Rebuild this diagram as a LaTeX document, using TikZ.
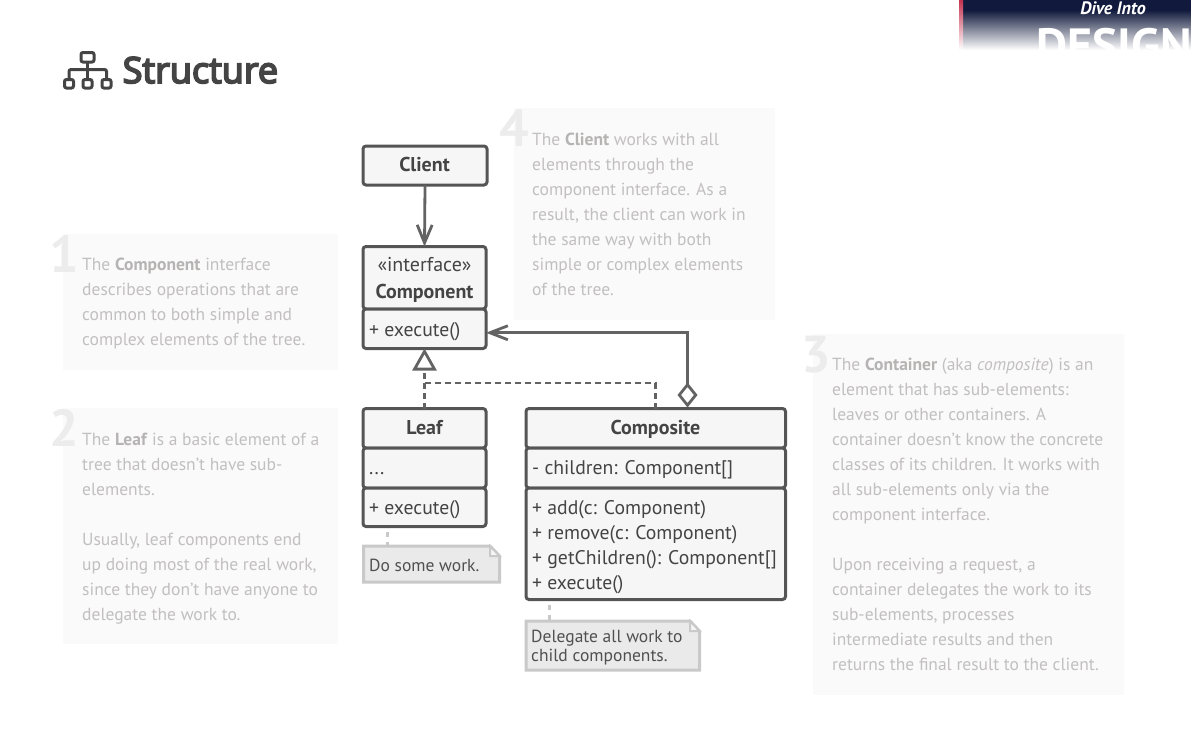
\documentclass[tikz,border=0pt]{standalone}
\usepackage{fontspec}
\setmainfont{PT Sans}
\newfontfamily\titlefont[FakeBold=5]{Open Sans}
\usetikzlibrary{arrows.meta}
\definecolor{inkdark}{HTML}{444444}
\definecolor{inknote}{HTML}{505050}
\definecolor{linedark}{HTML}{555555}
\definecolor{linemid}{HTML}{636363}
\definecolor{boxfill}{HTML}{F6F6F6}
\definecolor{panelfill}{HTML}{FAFAFA}
\definecolor{paneltext}{HTML}{C2BFBF}
\definecolor{panelbold}{HTML}{B6B3B3}
\definecolor{numgray}{HTML}{ECECEC}
\definecolor{notefill}{HTML}{EAEAEA}
\definecolor{noteline}{HTML}{C9C9C9}
\definecolor{bannernavy}{HTML}{111A3C}
\definecolor{bannerred}{HTML}{C4324F}
\tikzset{
  classbox/.style={draw=linedark,fill=boxfill,line width=3pt,rounded corners=3pt,anchor=north west,outer sep=0pt,inner sep=0pt,minimum width=#1},
  classbox/.default=123pt,
  headtext/.style={anchor=base,text=inkdark,font=\fontsize{20}{23}\selectfont\bfseries},
  itemtext/.style={anchor=base west,text=inkdark,inner sep=0pt,font=\fontsize{19.7}{25}\selectfont},
  notetext/.style={anchor=base west,text=inknote,inner sep=0pt,align=left,font=\fontsize{17.5}{19}\selectfont},
  notebox/.style={draw=noteline,fill=notefill,line width=3pt,line join=miter},
  notelink/.style={draw=noteline,line width=3pt,dash pattern=on 5pt off 5pt,dash phase=5pt},
  panel/.style={fill=panelfill},
  paneltxt/.style={anchor=base west,text=paneltext,inner sep=0pt,align=left,font=\fontsize{17.5}{25}\selectfont},
  bignum/.style={anchor=base west,text=numgray,inner sep=0pt,font=\fontsize{52}{52}\selectfont\bfseries},
  assoc/.style={draw=linemid,line width=2.8pt},
  realize/.style={draw=linemid,line width=2.8pt,dash pattern=on 6pt off 4pt},
  iconline/.style={draw=inkdark,line width=3pt,rounded corners=2pt}
}
\newcommand{\hl}[1]{\textcolor{panelbold}{\textbf{#1}}}
\begin{document}
\begin{tikzpicture}[x=1pt,y=-1pt]
\useasboundingbox (0,0) rectangle (1191,731);
\begin{scope}
\clip (959,0) rectangle (1191,50);
\shade[top color=bannernavy,bottom color=white] (959,10) rectangle (1191,50);
\fill[bannernavy] (959,0) rectangle (1191,10.5);
\shade[top color=bannerred,bottom color=white] (959,0) rectangle (963,50);
\node[anchor=base,text=white,inner sep=0pt,font=\fontsize{18}{18}\selectfont\bfseries\itshape] (bannertop) at (1113,14) {Dive Into};
\node[anchor=base west,text=white,inner sep=0pt,font=\fontsize{48}{48}\selectfont\bfseries] (bannerword) at (1036,62) {DESIGN};
\end{scope}
\draw[iconline] (81,52.5) rectangle (94,62);
\draw[iconline] (87.5,62) -- (87.5,79);
\draw[iconline] (69,79) -- (69,69.5) -- (106.5,69.5) -- (106.5,79);
\draw[iconline] (64.5,79.5) rectangle (73.5,88);
\draw[iconline] (83,79.5) rectangle (92,88);
\draw[iconline] (102,79.5) rectangle (111,88);
\node[anchor=base west,text=inkdark,inner sep=0pt,font=\titlefont\fontsize{36}{36}\selectfont] (title) at (122.5,83) {Structure};
\fill[panel] (63,234) rectangle (338,370);
\fill[panel] (63,408) rectangle (338,644);
\fill[panel] (514,108) rectangle (775,320);
\fill[panel] (813,334) rectangle (1124,695);
\node[bignum] (numone) at (49.5,272) {1};
\node[bignum] (numtwo) at (49.5,446) {2};
\node[bignum] (numfour) at (499,146) {4};
\node[bignum] (numthree) at (801,372) {3};
\node[paneltxt] (textone) at (82,345) {The \hl{Component} interface\\describes operations that are\\common to both simple and\\complex elements of the tree.};
\node[paneltxt] (texttwo) at (82,620) {The \hl{Leaf} is a basic element of a\\tree that doesn’t have sub-\\elements.\\[25pt]Usually, leaf components end\\up doing most of the real work,\\since they don’t have anyone to\\delegate the work to.};
\node[paneltxt] (textfour) at (532,295) {The \hl{Client} works with all\\elements through the\\component interface. As a\\result, the client can work in\\the same way with both\\simple or complex elements\\of the tree.};
\node[paneltxt] (textthree) at (832,670) {The \hl{Container} (aka \textit{composite}) is an\\element that has sub-elements:\\leaves or other containers. A\\container doesn’t know the concrete\\classes of its children. It works with\\all sub-elements only via the\\component interface.\\[25pt]Upon receiving a request, a\\container delegates the work to its\\sub-elements, processes\\intermediate results and then\\returns the final result to the client.};
\node[classbox=124pt,minimum height=39pt] (Client) at (363,146) {};
\node[classbox,minimum height=62.5pt] (ComponentHead) at (363,246.5) {};
\node[classbox,minimum height=39.5pt] (ComponentBody) at (363,309) {};
\node[classbox,minimum height=39.5pt] (LeafHead) at (363,408.5) {};
\node[classbox,minimum height=40pt] (LeafFields) at (363,448) {};
\node[classbox,minimum height=38.5pt] (LeafBody) at (363,488) {};
\node[classbox=259.5pt,minimum height=39.5pt] (CompositeHead) at (526,408.5) {};
\node[classbox=259.5pt,minimum height=40pt] (CompositeFields) at (526,448) {};
\node[classbox=259.5pt,minimum height=111.5pt] (CompositeBody) at (526,488) {};
\node[headtext] (clientname) at (424.5,171.5) {Client};
\node[headtext,font=\fontsize{20}{23}\selectfont] (stereotype) at (424.5,271.5) {«interface»};
\node[headtext] (componentname) at (424.5,298) {Component};
\node[itemtext] (componentop) at (369,336) {+ execute()};
\node[headtext] (leafname) at (424.5,434) {Leaf};
\node[itemtext] (leaffield) at (369,474) {...};
\node[itemtext] (leafop) at (369,514) {+ execute()};
\node[headtext] (compositename) at (655.5,434) {Composite};
\node[itemtext] (compositefield) at (532,474) {- children: Component[]};
\node[itemtext] (opadd) at (532,514) {+ add(c: Component)};
\node[itemtext] (opremove) at (532,539) {+ remove(c: Component)};
\node[itemtext] (opchildren) at (532,564) {+ getChildren(): Component[]};
\node[itemtext] (opexecute) at (532,589) {+ execute()};
\coordinate (leafnotetop) at (387,545);
\coordinate (compnotetop) at (549,620);
\draw[notelink] (LeafBody.south -| leafnotetop) -- (leafnotetop);
\draw[notelink] (CompositeBody.south -| compnotetop) -- (compnotetop);
\draw[notebox] (363.5,546) -- (490,546) -- (499.5,556) -- (499.5,582) -- (363.5,582) -- cycle;
\draw[noteline,fill=boxfill,line width=2pt] (490,546) -- (490,556) -- (499.5,556) -- cycle;
\node[notetext] (leafnote) at (369,571) {Do some work.};
\draw[notebox] (526,621) -- (690,621) -- (699.5,631) -- (699.5,670) -- (526,670) -- cycle;
\draw[noteline,fill=boxfill,line width=2pt] (690,621) -- (690,631) -- (699.5,631) -- cycle;
\node[notetext] (compnote) at (531,661) {Delegate all work to\\child components.};
\draw[assoc,-{Straight Barb[length=18pt,width=15pt]}] (Client.south) -- (ComponentHead.north);
\coordinate (realjoin) at (424.5,383);
\draw[realize] (CompositeHead.north) |- (realjoin);
\draw[realize,-{Triangle[open,length=22pt,width=24pt]}] (LeafHead.north) -- (ComponentBody.south);
\coordinate (aggrfoot) at (687.5,407.5);
\draw[assoc,{Straight Barb[length=18pt,width=14pt]}-{Diamond[open,length=25pt,width=20pt]}] ([yshift=-4pt]ComponentBody.east) -| (aggrfoot);
\end{tikzpicture}
\end{document}
